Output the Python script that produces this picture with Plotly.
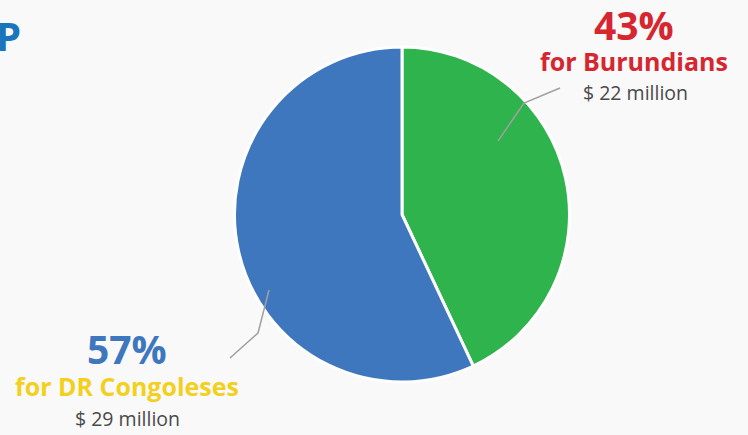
import plotly.graph_objects as go

W, H = 748, 435
labels = ["Burundians", "DR Congoleses"]
values = [43, 57]
amounts = ["$ 22 million", "$ 29 million"]
colors = ["#2fb34c", "#3f77be"]
label_colors = ["#d6262f", "#f3d01d"]
pct_colors = ["#d6262f", "#3f77be"]

fig = go.Figure(go.Pie(
    labels=labels, values=values, sort=False, direction="clockwise", rotation=0,
    marker=dict(colors=colors, line=dict(color="white", width=3)),
    textinfo="none", hoverinfo="label+percent", showlegend=False,
    domain=dict(x=[234 / W, 570 / W], y=[1 - 382 / H, 1 - 47 / H]),
))

def px(x): return x / W
def py(y): return 1 - y / H

ann = []
font = "Open Sans"
# Burundians
ann.append(dict(x=px(634), y=py(24), text=f"<b>{values[0]}%</b>", font=dict(size=39, color=pct_colors[0], family=font)))
ann.append(dict(x=px(634), y=py(61), text=f"<b>for {labels[0]}</b>", font=dict(size=25, color=label_colors[0], family=font)))
ann.append(dict(x=px(635), y=py(93), text=amounts[0], font=dict(size=19.5, color="#4a4a4a", family=font)))
# DR Congoleses
ann.append(dict(x=px(127), y=py(348), text=f"<b>{values[1]}%</b>", font=dict(size=39, color=pct_colors[1], family=font)))
ann.append(dict(x=px(127), y=py(386), text=f"<b>for {labels[1]}</b>", font=dict(size=25, color=label_colors[1], family=font)))
ann.append(dict(x=px(127), y=py(418), text=amounts[1], font=dict(size=19.5, color="#4a4a4a", family=font)))
# title fragment
ann.append(dict(x=px(-6), y=py(35), xanchor="left", text="<b>P</b>", font=dict(size=40, color="#1a75bb", family=font)))
for a in ann:
    a.update(xref="paper", yref="paper", showarrow=False, yanchor=a.get("yanchor", "middle"),
             xanchor=a.get("xanchor", "center"))

shapes = [
    dict(type="path", path=f"M {px(498)} {py(141)} L {px(524)} {py(103)} L {px(560)} {py(88)}"),
    dict(type="path", path=f"M {px(269)} {py(290)} L {px(258)} {py(333)} L {px(230)} {py(358)}"),
]
for s in shapes:
    s.update(xref="paper", yref="paper", line=dict(color="#a0a0a0", width=1.5))

fig.update_layout(width=W, height=H, margin=dict(l=0, r=0, t=0, b=0),
                  paper_bgcolor="#f9f9f9", plot_bgcolor="#f9f9f9",
                  annotations=ann, shapes=shapes)
fig.write_html("out.html", config={"displayModeBar": False},
               post_script="document.body.style.margin='0';document.body.style.overflow='hidden';")
